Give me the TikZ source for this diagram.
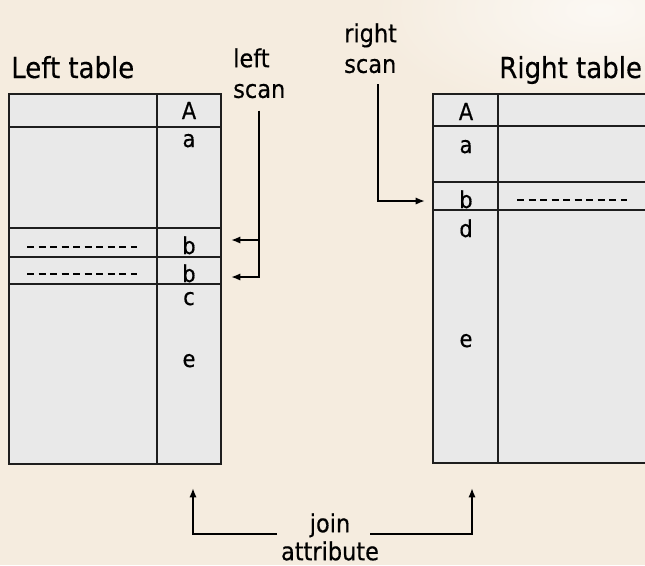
\documentclass[tikz,border=0pt]{standalone}
\usepackage{fontspec}
\IfFontExistsTF{DejaVu Sans Condensed}
	{\setmainfont[FakeBold=0.4]{DejaVu Sans Condensed}}
	{\setmainfont{PT Sans}}
\usetikzlibrary{arrows.meta,calc}

\definecolor{paper}{HTML}{F5ECDF}
\definecolor{cellgray}{HTML}{E9E9E9}
\definecolor{rulegray}{HTML}{1E1E1E}

\begin{document}
\begin{tikzpicture}[
		x=0.75pt, y=-0.75pt,
		every node/.style={inner sep=0pt, text=black},
		title/.style={font=\fontsize{21.7}{26}\selectfont, anchor=base west},
		caption/.style={font=\fontsize{18.7}{23}\selectfont, align=left, anchor=north west},
		key/.style={font=\fontsize{17.5}{20}\selectfont, anchor=base},
		tablebox/.style={draw=rulegray, line width=1.5pt, fill=cellgray},
		rowline/.style={draw=rulegray, line width=1.5pt},
		headline/.style={draw=rulegray, line width=2.2pt},
		link/.style={line width=1.4pt, -{Latex[length=7pt,width=5.5pt]}},
		dashrow/.style={line width=1.1pt, dash pattern=on 5.25pt off 3.4pt}
		]
		
		\useasboundingbox (0,0) rectangle (645,565);
		\clip (0,0) rectangle (645,565);
		\fill[paper] (0,0) rectangle (645,565);
		\shade[inner color=white!65!paper, outer color=paper] (600,10) ellipse (170pt and 80pt);
		
		% Left table
		\filldraw[tablebox] (9,94) rectangle (221,464);
		\draw[rowline] (157,94) -- (157,464);
		\draw[headline] (9,127) -- (221,127);
		\foreach \y in {228,257,284}
			\draw[rowline] (9,\y) -- (221,\y);
		\draw[dashrow] (27,247) -- (137,247);
		\draw[dashrow] (27,274) -- (137,274);
		
		% Right table, runs off the page
		\filldraw[tablebox] (433,94) rectangle (660,463);
		\draw[rowline] (498,94) -- (498,463);
		\draw[headline] (433,126) -- (660,126);
		\foreach \y in {182,210}
			\draw[rowline] (433,\y) -- (660,\y);
		\draw[dashrow] (517,200) -- (627,200);
		
		% Titles
		\node[title] (ltitle) at (11,78) {Left table};
		\node[title] (rtitle) at (499,78) {Right table};
		
		% Join column values
		\node[key] (lA) at (189,119) {A};
		\node[key] (la) at (189,147) {a};
		\node[key] (lb1) at (189,254) {b};
		\node[key] (lb2) at (189,282) {b};
		\node[key] (lc) at (189,305) {c};
		\node[key] (le) at (189,367) {e};
		
		\node[key] (rA) at (466,120) {A};
		\node[key] (ra) at (466,153) {a};
		\node[key] (rb) at (466,208) {b};
		\node[key] (rd) at (466,237) {d};
		\node[key] (re) at (466,347) {e};
		
		% Scans
		\node[caption] (lscan) at (233,48) {left\\scan};
		\node[caption] (rscan) at (344,23) {right\\scan};
		
		\coordinate (lhit1) at (231,240);
		\coordinate (lhit2) at (231,277);
		\coordinate (rhit) at (425,201);
		
		\draw[link] ([yshift=-9pt]lscan.south) |- (lhit2);
		\draw[link] (lscan.south |- lhit1) -- (lhit1);
		\draw[link] ([xshift=5.6pt,yshift=-8pt]rscan.south) |- (rhit);
		
		% Join attribute
		\node[font=\fontsize{18.7}{21}\selectfont, align=center, anchor=north] (join) at (330,513) {join\\attribute};
		
		\coordinate (lfoot) at (193,488);
		\coordinate (rfoot) at (472,488);
		
		\draw[link] ($(join.north)+(-53,21)$) -| (lfoot);
		\draw[link] ($(join.north)+(40,21)$) -| (rfoot);
		
	\end{tikzpicture}
\end{document}
